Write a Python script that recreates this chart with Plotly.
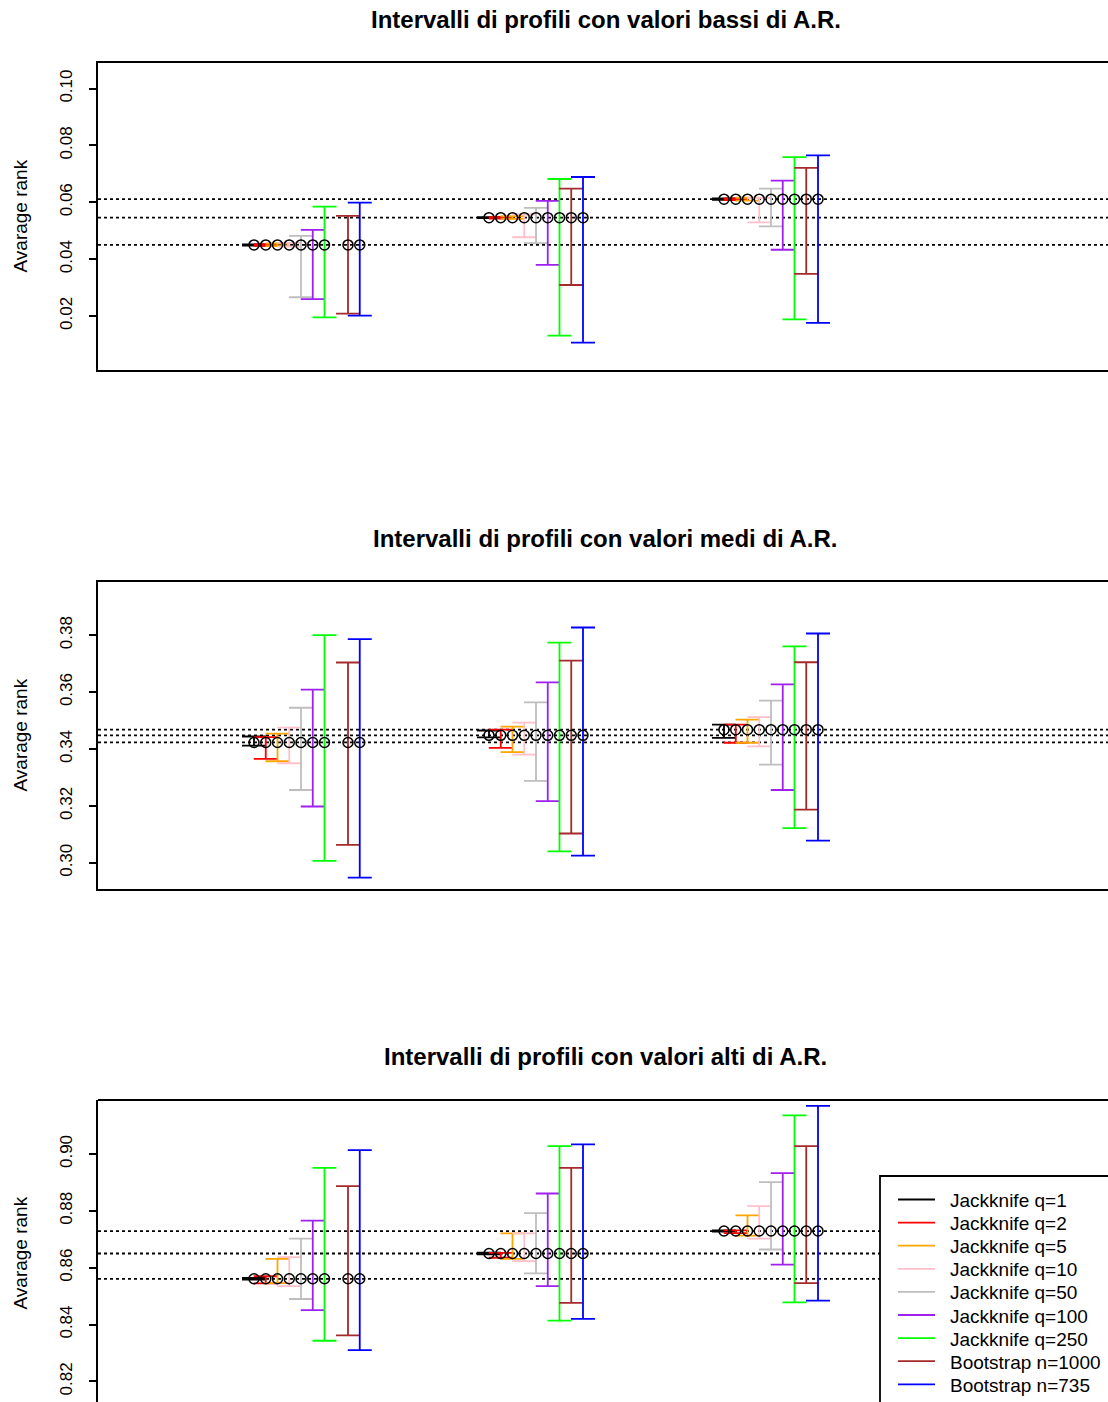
import plotly.graph_objects as go

W, H = 1108, 1402

TITLES = [
    "Intervalli di profili con valori bassi di A.R.",
    "Intervalli di profili con valori medi di A.R.",
    "Intervalli di profili con valori alti di A.R.",
]
Y_LABEL = "Avarage rank"
ESTIMATORS = ["Jackknife q=1", "Jackknife q=2", "Jackknife q=5", "Jackknife q=10",
              "Jackknife q=50", "Jackknife q=100", "Jackknife q=250",
              "Bootstrap n=1000", "Bootstrap n=735"]
COLORS = ["#000000", "#FF0000", "#FFA500", "#FFC0CB", "#BEBEBE",
          "#A020F0", "#00FF00", "#A52A2A", "#0000FF"]
GROUPS = [1, 2, 3]

# panel 1 (valori bassi)
P1_POINT = [0.0450, 0.0546, 0.0611]
P1_LOW = [
    [0.0448, 0.0447, 0.0446, 0.0444, 0.0266, 0.0259, 0.0195, 0.0208, 0.0201],
    [0.0544, 0.0543, 0.0542, 0.0477, 0.0456, 0.0380, 0.0131, 0.0309, 0.0106],
    [0.0609, 0.0608, 0.0606, 0.0529, 0.0515, 0.0433, 0.0188, 0.0348, 0.0176],
]
P1_HIGH = [
    [0.0452, 0.0453, 0.0455, 0.0457, 0.0482, 0.0503, 0.0585, 0.0552, 0.0599],
    [0.0548, 0.0549, 0.0551, 0.0558, 0.0580, 0.0605, 0.0682, 0.0648, 0.0689],
    [0.0614, 0.0614, 0.0616, 0.0615, 0.0648, 0.0676, 0.0759, 0.0721, 0.0765],
]
# panel 2 (valori medi)
P2_POINT = [0.3423, 0.3448, 0.3468]
P2_LOW = [
    [0.3412, 0.3365, 0.3357, 0.3350, 0.3256, 0.3198, 0.3007, 0.3063, 0.2948],
    [0.3441, 0.3404, 0.3389, 0.3380, 0.3288, 0.3217, 0.3040, 0.3103, 0.3025],
    [0.3439, 0.3422, 0.3422, 0.3409, 0.3345, 0.3256, 0.3122, 0.3187, 0.3078],
]
P2_HIGH = [
    [0.3444, 0.3442, 0.3454, 0.3475, 0.3545, 0.3609, 0.3800, 0.3704, 0.3786],
    [0.3465, 0.3468, 0.3479, 0.3493, 0.3564, 0.3634, 0.3774, 0.3711, 0.3827],
    [0.3486, 0.3486, 0.3503, 0.3512, 0.3570, 0.3627, 0.3761, 0.3705, 0.3806],
]
# panel 3 (valori alti)
P3_POINT = [0.8561, 0.8650, 0.8729]
P3_LOW = [
    [0.8558, 0.8545, 0.8546, 0.8535, 0.8490, 0.8451, 0.8343, 0.8362, 0.8310],
    [0.8647, 0.8635, 0.8631, 0.8623, 0.8580, 0.8535, 0.8414, 0.8476, 0.8420],
    [0.8727, 0.8722, 0.8713, 0.8702, 0.8664, 0.8611, 0.8478, 0.8546, 0.8484],
]
P3_HIGH = [
    [0.8564, 0.8570, 0.8631, 0.8637, 0.8702, 0.8766, 0.8951, 0.8887, 0.9014],
    [0.8653, 0.8652, 0.8721, 0.8721, 0.8792, 0.8861, 0.9028, 0.8951, 0.9034],
    [0.8731, 0.8731, 0.8784, 0.8817, 0.8901, 0.8933, 0.9136, 0.9028, 0.9169],
]
P1_TICKS = [0.02, 0.04, 0.06, 0.08, 0.10]
P2_TICKS = [0.30, 0.32, 0.34, 0.36, 0.38]
P3_TICKS = [0.82, 0.84, 0.86, 0.88, 0.90]

PANELS = [
    (P1_POINT, P1_LOW, P1_HIGH, P1_TICKS),
    (P2_POINT, P2_LOW, P2_HIGH, P2_TICKS),
    (P3_POINT, P3_LOW, P3_HIGH, P3_TICKS),
]

# ---- layout constants (reference pixels) ----
OFFSETS = [-0.2, -0.15, -0.1, -0.05, 0.0, 0.05, 0.1, 0.15, 0.2]
SHIFT_G1_BOOT = 0.05  # bootstrap bars in the first group sit one slot further right
PX_LEFT = 98
PANEL_TOP = [63, 582, 1100]
PANEL_H = 307         # third panel continues past the bottom edge
Y_RANGES = [(0.001, 0.109), (0.2908, 0.3987), (0.811, 0.919)]
X_RANGE = [1 + (PX_LEFT - 301) / 235, 1 + (W - 301) / 235]
FONT = "Liberation Sans, Arial, sans-serif"
LW = 1.8


def xp(p):
    return p / W


def yp(p):
    return 1 - p / H


fig = go.Figure()
layout = dict(
    width=W, height=H, margin=dict(l=0, r=0, t=0, b=0),
    paper_bgcolor="white", plot_bgcolor="white", showlegend=False,
    font=dict(family=FONT, color="black"),
)
shapes = []
annotations = []

for pi, (point, low, high, ticks) in enumerate(PANELS):
    top = PANEL_TOP[pi]
    bottom = min(top + PANEL_H, H)
    lo_r, hi_r = Y_RANGES[pi]
    vis_lo = hi_r - (hi_r - lo_r) * (bottom - top) / PANEL_H
    xa = "xaxis" if pi == 0 else f"xaxis{pi + 1}"
    ya = "yaxis" if pi == 0 else f"yaxis{pi + 1}"
    xr = "x" if pi == 0 else f"x{pi + 1}"
    yr = "y" if pi == 0 else f"y{pi + 1}"
    layout[xa] = dict(domain=[xp(PX_LEFT), 1], range=X_RANGE,
                      showgrid=False, zeroline=False, showticklabels=False, ticks="",
                      showline=(pi < 2), mirror=True, linecolor="black",
                      linewidth=LW, anchor=yr)
    layout[ya] = dict(domain=[yp(bottom), yp(top)], range=[vis_lo, hi_r],
                      showgrid=False, zeroline=False, tickvals=ticks,
                      ticktext=[f"{t:.2f}" for t in ticks], ticks="outside",
                      ticklen=7, tickwidth=LW, tickcolor="black",
                      tickangle=-90, tickfont=dict(size=17, family=FONT, color="black"),
                      showline=True, linecolor="black", linewidth=LW,
                      anchor=xr, ticklabelstandoff=10)
    if pi == 2:
        shapes.append(dict(type="line", xref="paper", yref="paper",
                           x0=xp(PX_LEFT), x1=1, y0=yp(top), y1=yp(top),
                           line=dict(color="black", width=LW)))

    # dotted reference lines at the point estimates
    for v in point:
        shapes.append(dict(type="line", xref=f"{xr} domain", yref=yr,
                           x0=0, x1=1, y0=v, y1=v, layer="below",
                           line=dict(color="black", width=LW, dash="3px,3px")))

    # error bars per estimator
    for ei in range(len(ESTIMATORS)):
        xs, ys, up, dn = [], [], [], []
        for gi, g in enumerate(GROUPS):
            off = OFFSETS[ei] + (SHIFT_G1_BOOT if (gi == 0 and ei >= 7) else 0)
            xs.append(g + off)
            ys.append(point[gi])
            up.append(high[gi][ei] - point[gi])
            dn.append(point[gi] - low[gi][ei])
        fig.add_trace(go.Scatter(
            x=xs, y=ys, xaxis=xr, yaxis=yr, mode="markers",
            marker=dict(size=1, color="rgba(0,0,0,0)"),
            error_y=dict(type="data", symmetric=False, array=up, arrayminus=dn,
                         color=COLORS[ei], thickness=LW, width=12),
            hoverinfo="skip"))
    # circles
    cx, cy = [], []
    for gi, g in enumerate(GROUPS):
        for ei in range(len(ESTIMATORS)):
            off = OFFSETS[ei] + (SHIFT_G1_BOOT if (gi == 0 and ei >= 7) else 0)
            cx.append(g + off)
            cy.append(point[gi])
    fig.add_trace(go.Scatter(
        x=cx, y=cy, xaxis=xr, yaxis=yr, mode="markers",
        marker=dict(symbol="circle-open", size=10, color="black",
                    line=dict(width=1.5, color="black")),
        hoverinfo="skip"))

    # titles
    title_y = [20, 538, 1056][pi]
    annotations.append(dict(text=f"<b>{TITLES[pi]}</b>", xref="paper", yref="paper",
                            x=xp(605.5), y=yp(title_y), showarrow=False,
                            xanchor="center", yanchor="middle",
                            font=dict(size=24, family=FONT, color="black")))
    annotations.append(dict(text=Y_LABEL, xref="paper", yref="paper",
                            x=xp(20), y=yp(top + PANEL_H / 2), showarrow=False,
                            textangle=-90, xanchor="center", yanchor="middle",
                            font=dict(size=19, family=FONT, color="black")))

# legend (drawn manually, box partially outside the picture like the original)
LEG_X0, LEG_Y0 = 880, 1176
shapes.append(dict(type="rect", xref="paper", yref="paper",
                   x0=xp(LEG_X0), x1=xp(W + 20), y0=yp(LEG_Y0), y1=yp(H + 20),
                   fillcolor="white", line=dict(color="black", width=LW),
                   layer="above"))
for i, (name, col) in enumerate(zip(ESTIMATORS, COLORS)):
    ry = 1199.5 + i * 23.1
    shapes.append(dict(type="line", xref="paper", yref="paper",
                       x0=xp(898), x1=xp(935), y0=yp(ry), y1=yp(ry),
                       line=dict(color=col, width=LW), layer="above"))
    annotations.append(dict(text=name, xref="paper", yref="paper",
                            x=xp(948), y=yp(ry + 1), showarrow=False,
                            xanchor="left", yanchor="middle",
                            font=dict(size=19, family=FONT, color="black")))

layout["shapes"] = shapes
layout["annotations"] = annotations
fig.update_layout(**layout)
fig.write_html(
    "out.html",
    config={"displayModeBar": False},
    post_script="document.body.style.margin='0';document.body.style.padding='0';",
)
